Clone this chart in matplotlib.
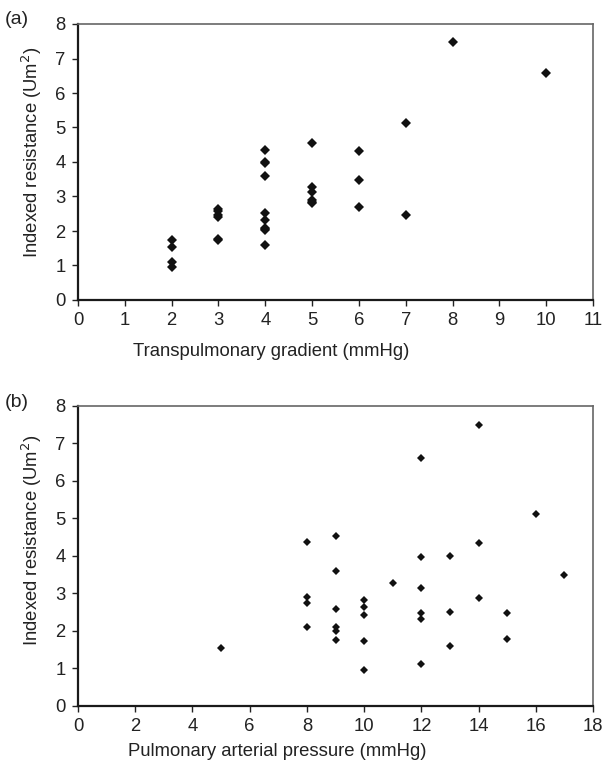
import matplotlib
matplotlib.use("Agg")
import matplotlib.pyplot as plt

plt.rcParams['font.family'] = ['Liberation Sans', 'DejaVu Sans']

# Panel (a): transpulmonary gradient vs indexed resistance
tpg_x = [2, 2, 2, 2,
         3, 3, 3, 3, 3, 3,
         4, 4, 4, 4, 4, 4, 4, 4, 4, 4,
         5, 5, 5, 5, 5, 5,
         6, 6, 6,
         7, 7,
         8,
         10]
tpg_y = [1.74, 1.53, 1.11, 0.97,
         2.63, 2.57, 2.45, 2.42, 1.78, 1.74,
         4.35, 3.99, 3.96, 3.60, 2.51, 2.32, 2.09, 2.05, 2.02, 1.59,
         4.54, 3.28, 3.12, 2.89, 2.84, 2.80,
         4.33, 3.48, 2.70,
         5.12, 2.46,
         7.48,
         6.59]

# Panel (b): pulmonary arterial pressure vs indexed resistance
pap_x = [5,
         8, 8, 8, 8,
         9, 9, 9, 9, 9, 9,
         10, 10, 10, 10, 10,
         11,
         12, 12, 12, 12, 12, 12,
         13, 13, 13,
         14, 14, 14,
         15, 15,
         16,
         17]
pap_y = [1.54,
         4.36, 2.89, 2.73, 2.09,
         4.54, 3.60, 2.57, 2.10, 2.00, 1.75,
         2.82, 2.64, 2.41, 1.73, 0.96,
         3.27,
         6.60, 3.96, 3.13, 2.48, 2.31, 1.11,
         3.99, 2.51, 1.60,
         7.49, 4.34, 2.88,
         2.47, 1.78,
         5.12,
         3.49]

y_ticks = list(range(0, 9))
tpg_ticks = list(range(0, 12))
pap_ticks = list(range(0, 19, 2))

W, H = 603, 761
fig = plt.figure(figsize=(W / 100, H / 100), dpi=100)

def frac(left, top, right, bottom):
    return [left / W, 1 - bottom / H, (right - left) / W, (bottom - top) / H]

ax_a = fig.add_axes(frac(78, 24, 593, 300))
ax_b = fig.add_axes(frac(78, 406, 593, 705.5))

text_color = '#222222'
fs = 13.3

def style(ax, xticks, xlim, xlabel, ms, x, y, xl_pos, yl_pos):
    ax.plot(x, y, linestyle='none', marker='D', markersize=ms,
            color='#111111', markeredgewidth=0)
    ax.set_xlim(*xlim)
    ax.set_ylim(0, 8)
    ax.set_xticks(xticks)
    ax.set_yticks(y_ticks)
    ax.set_xlabel(xlabel, fontsize=fs, color=text_color)
    ax.set_ylabel('Indexed resistance (Um$^2$)', fontsize=fs, color=text_color)
    ax.xaxis.set_label_coords(*xl_pos)
    ax.yaxis.set_label_coords(*yl_pos)
    ax.tick_params(direction='out', length=4, width=1, colors='#222222',
                   labelsize=fs, labelcolor=text_color, pad=5)
    for s in ['left', 'bottom']:
        ax.spines[s].set_color('#1a1a1a')
        ax.spines[s].set_linewidth(1.6)
    for s in ['top', 'right']:
        ax.spines[s].set_color('#666666')
        ax.spines[s].set_linewidth(1.2)

style(ax_a, tpg_ticks, (0, 11), 'Transpulmonary gradient (mmHg)', 5.5,
      tpg_x, tpg_y, (0.375, -0.155), (-0.066, 0.536))
style(ax_b, pap_ticks, (0, 18), 'Pulmonary arterial pressure (mmHg)', 4.3,
      pap_x, pap_y, (0.386, -0.126), (-0.066, 0.553))

fig.text(5 / W, 1 - 20 / H, '(a)', fontsize=14, color=text_color, va='center', ha='left')
fig.text(5 / W, 1 - 402 / H, '(b)', fontsize=14, color=text_color, va='center', ha='left')

fig.savefig('out.png', dpi=100, facecolor='white')
